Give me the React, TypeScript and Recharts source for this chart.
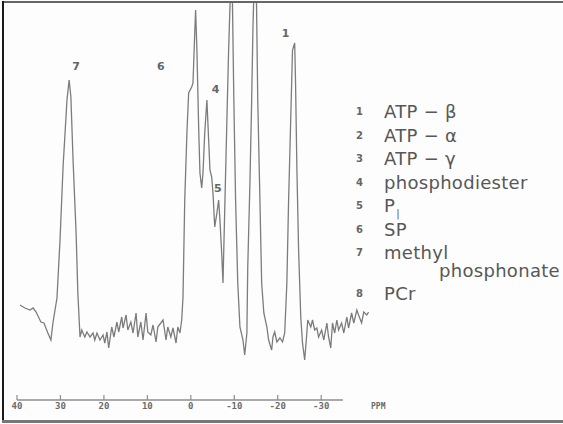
import { LineChart, Line, XAxis, YAxis, ReferenceLine, ReferenceDot } from "recharts";

// 31P spectrum, chemical shift (ppm) and signal height
const shiftPpm = [
  39.3, 38.2, 37.0, 36.3, 35.6, 34.5, 33.8, 32.9, 32.2, 31.7, 30.8, 30.1, 29.4, 28.5, 28.0, 27.6, 27.1, 26.4, 26.0,
  25.5, 25.1, 24.4, 23.9, 23.2, 22.5, 22.1, 21.6, 20.9, 20.2, 19.8, 19.3, 18.9, 18.2, 17.7, 17.0, 16.6, 15.9, 15.6,
  14.9, 14.5, 13.8, 13.3, 12.6, 12.2, 11.5, 11.0, 10.3, 9.9, 9.2, 8.7, 8.0, 7.6, 6.9, 6.4, 5.7, 5.3, 4.6, 4.1, 3.4,
  3.0, 2.5, 2.1, 1.8, 1.4, 0.9, 0.5, -0.2, -0.5, -0.9, -1.1, -1.4, -1.8, -2.1, -2.5, -2.8, -3.2, -3.7, -3.9, -4.4,
  -4.8, -5.1, -5.5, -6.0, -6.4, -6.7, -7.1, -7.4, -7.8, -8.3, -8.7, -9.4, -9.9, -10.3, -10.8, -11.3, -12.0, -12.4,
  -12.9, -13.1, -13.6, -14.0, -14.3, -14.9, -15.4, -15.9, -16.3, -16.8, -17.5, -17.9, -18.6, -18.9, -19.3, -19.8,
  -20.5, -21.1, -21.6, -22.1, -22.5, -23.0, -23.4, -23.9, -24.1, -24.4, -24.8, -25.3, -25.7, -26.2, -26.7, -26.9,
  -27.6, -28.0, -28.5, -29.0, -29.4, -30.1, -30.6, -31.3, -31.7, -32.2, -32.6, -33.1, -33.6, -34.0, -34.7, -35.2,
  -35.9, -36.3, -37.0, -37.5, -38.2, -38.6, -39.3, -39.8, -40.5, -40.9,
];
const signal = [
  95, 92, 90, 92, 88, 78, 77, 67, 60, 78, 102, 160, 233, 300, 320, 303, 240, 167, 107,
  63, 70, 63, 68, 63, 67, 60, 67, 60, 65, 57, 68, 52, 73, 63, 78, 68, 83, 72,
  85, 70, 78, 67, 87, 63, 78, 60, 87, 68, 65, 75, 58, 73, 77, 80, 60, 73, 63, 72, 57,
  73, 67, 80, 103, 200, 267, 307, 313, 317, 367, 390, 350, 273, 227, 212, 227, 267, 300, 280, 230,
  223, 207, 173, 187, 200, 180, 147, 117, 190, 280, 350, 450, 300, 200, 117, 73, 60, 45,
  67, 133, 217, 300, 373, 470, 300, 200, 117, 87, 73, 60, 50, 63, 68, 58,
  62, 58, 67, 117, 200, 283, 350, 357, 317, 233, 150, 83, 57, 40, 67, 80,
  73, 80, 70, 72, 63, 70, 60, 77, 63, 52, 77, 67, 80, 70, 77, 67,
  83, 72, 87, 77, 90, 85, 77, 88, 85, 88,
];

const axisTicks = [40, 30, 20, 10, 0, -10, -20, -30];

const peakTags = ["7", "6", "4", "5", "1"];
const peakTagPpm = [26.4, 6.9, -5.7, -6.2, -21.8];
const peakTagHeight = [334, 334, 311, 212, 367];

const assignNumbers = ["1", "2", "3", "4", "5", "6", "7", "8"];
const assignNames = ["ATP − β", "ATP − α", "ATP − γ", "phosphodiester", "P|i", "SP", "methyl\nphosphonate", "PCr"];

const data = shiftPpm.map((ppm, i) => ({ ppm, signal: signal[i] }));

const INK = "#7c7c7c";
const TEXT = "#575757";

function PpmTick({ x, y, payload }: any) {
  return (
    <g>
      <line x1={x} x2={x} y1={y - 5} y2={y} stroke="#8e8e8e" strokeWidth={1.2} />
      <text
        x={x}
        y={y + 9}
        textAnchor="middle"
        fontSize={9}
        fontWeight="bold"
        fill="#6a6a6a"
        fontFamily="DejaVu Sans Mono, monospace"
      >
        {payload.value}
      </text>
    </g>
  );
}

function AssignmentList() {
  let cy = 112;
  const rows: any[] = [];
  assignNames.forEach((name, i) => {
    const lines = name.split("\n");
    rows.push(
      <div key={i}>
        <span style={{ position: "absolute", left: 356, top: cy - 6, fontSize: 10, fontWeight: "bold", color: "#666", lineHeight: "12px" }}>
          {assignNumbers[i]}
        </span>
        {lines.map((ln, j) => {
          const isPi = ln === "P|i";
          return (
            <span
              key={j}
              style={{
                position: "absolute",
                left: j === 0 ? 384 : 439,
                top: cy + j * 18 - 9,
                fontSize: 18,
                lineHeight: "18px",
                letterSpacing: 0.3,
                whiteSpace: "nowrap",
              }}
            >
              {isPi ? (
                <>
                  P<span style={{ fontSize: 10, position: "relative", top: 5, left: 1 }}>|</span>
                </>
              ) : (
                ln
              )}
            </span>
          );
        })}
      </div>
    );
    cy += 23.5 + (lines.length - 1) * 17;
  });
  return (
    <div style={{ position: "absolute", left: 0, top: 0, width: 563, height: 424, fontFamily: '"DejaVu Sans", sans-serif', color: TEXT, pointerEvents: "none" }}>
      {rows}
    </div>
  );
}

export default function App() {
  return (
    <div style={{ position: "fixed", left: 0, top: 0, width: 563, height: 424, background: "#fdfdfd", overflow: "hidden" }}>
      <div style={{ position: "absolute", left: 2, top: 1, width: 561, height: 2, background: "#666" }} />
      <div style={{ position: "absolute", left: 2, top: 1, width: 2, height: 422, background: "#1a1a1a" }} />
      <div style={{ position: "absolute", left: 2, top: 420, width: 561, height: 3, background: "#777" }} />
      <div style={{ position: "absolute", left: 0, top: 0 }}>
        <LineChart width={563} height={424} data={data} margin={{ top: 3, right: 194, bottom: 0, left: 17 }}>
          <XAxis
            dataKey="ppm"
            type="number"
            domain={[-41, 40]}
            reversed
            allowDataOverflow
            ticks={axisTicks}
            interval={0}
            tick={<PpmTick />}
            tickLine={false}
            axisLine={false}
            tickSize={0}
            tickMargin={0}
            height={24}
            label={{
              content: ({ viewBox }: any) => (
                <text
                  x={viewBox.x + viewBox.width + 2}
                  y={viewBox.y + 9}
                  fontSize={8}
                  fontWeight="bold"
                  fill="#6a6a6a"
                  fontFamily="DejaVu Sans Mono, monospace"
                >
                  PPM
                </text>
              ),
            }}
          />
          <YAxis hide domain={[0, 397]} allowDataOverflow />
          <ReferenceLine
            segment={[{ x: 40, y: 0 }, { x: -35, y: 0 }]}
            stroke="#8e8e8e"
            strokeWidth={1.5}
            ifOverflow="visible"
          />
          <Line
            type="linear"
            dataKey="signal"
            stroke={INK}
            strokeWidth={1.3}
            dot={false}
            isAnimationActive={false}
          />
          {peakTags.map((tag, i) => (
            <ReferenceDot
              key={tag + i}
              x={peakTagPpm[i]}
              y={peakTagHeight[i]}
              r={0}
              ifOverflow="visible"
              shape={(p: any) => (
                <text x={p.cx} y={p.cy + 4} textAnchor="middle" fontSize={11} fontWeight="bold" fill="#666" fontFamily="DejaVu Sans, sans-serif">
                  {tag}
                </text>
              )}
            />
          ))}
        </LineChart>
      </div>
      <AssignmentList />
    </div>
  );
}
